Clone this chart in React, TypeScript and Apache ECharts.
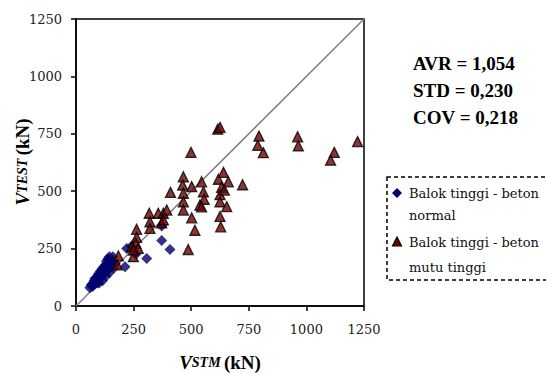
import React, { useEffect, useRef } from "react";
import * as echarts from "echarts";

// Balok tinggi - beton normal  [V_STM, V_TEST] (kN)
const normalData: number[][] = [
  [60, 80], [65, 90], [70, 95], [72, 85], [75, 100], [78, 110], [80, 95], [82, 120],
  [85, 105], [88, 115], [90, 125], [92, 100], [95, 130], [98, 140], [100, 115], [102, 135],
  [105, 150], [108, 125], [110, 145], [112, 160], [115, 135], [118, 155], [120, 170], [122, 145],
  [125, 160], [128, 180], [130, 150], [132, 195], [135, 170], [138, 205], [140, 160], [142, 185],
  [145, 215], [148, 175], [150, 200], [155, 190], [160, 215], [165, 165], [170, 185], [100, 100],
  [115, 110], [130, 130], [145, 145], [90, 110], [105, 125],
  [213, 171], [220, 250], [250, 240], [260, 225], [240, 260], [307, 207], [372, 285], [408, 246], [372, 348],
];

// Balok tinggi - beton mutu tinggi  [V_STM, V_TEST] (kN)
const highData: number[][] = [
  [615, 770], [625, 778], [499, 669], [794, 740], [789, 700], [813, 668], [962, 737], [965, 698],
  [1121, 669], [1105, 635], [1222, 716], [723, 528], [410, 495],
  [466, 563], [463, 527], [466, 491], [466, 454], [466, 418], [502, 520], [545, 541], [553, 497],
  [556, 465], [538, 440], [545, 432], [502, 384], [516, 330], [487, 246],
  [640, 582], [618, 552], [661, 541], [632, 517], [625, 485], [625, 454], [654, 433], [625, 390],
  [628, 345], [644, 505],
  [318, 404], [321, 367], [321, 338], [357, 404], [372, 362], [379, 404], [379, 375], [394, 418],
  [263, 334], [263, 299], [260, 273], [242, 258], [270, 251], [249, 215], [184, 218], [179, 179], [249, 244],
];

const lineData: number[][] = [[0, 0], [1250, 1250]];

const seriesNames = ["Balok tinggi - beton normal", "Balok tinggi - beton mutu tinggi"];
const statLines = ["AVR = 1,054", "STD = 0,230", "COV = 0,218"];

export default function App() {
  const ref = useRef<HTMLDivElement>(null);
  useEffect(() => {
    if (!ref.current) return;
    const chart = echarts.init(ref.current, null, { renderer: "svg" });
    const serif = "Liberation Serif";
    const serifReg = "DejaVu Serif";
    const axisCommon = {
      min: 0,
      max: 1250,
      interval: 250,
      axisLine: { show: true, onZero: false, lineStyle: { color: "#000", width: 1.5 } },
      axisTick: { show: true, inside: false, length: 5, lineStyle: { color: "#000", width: 1.5 } },
      splitLine: { show: false },
    };
    const labelStyle = {
      color: "#222",
      fontFamily: serifReg,
      fontSize: 13,
      formatter: (v: number) => String(v),
    };
    chart.setOption({
      animation: false,
      backgroundColor: "#fff",
      grid: { left: 76, top: 19, width: 288, height: 287, show: true, borderColor: "#000", borderWidth: 1.5 },
      xAxis: { ...axisCommon, type: "value", axisLabel: { ...labelStyle, margin: 17 } },
      yAxis: { ...axisCommon, type: "value", axisLabel: { ...labelStyle, margin: 14 } },
      series: [
        {
          type: "line",
          data: lineData,
          symbol: "none",
          lineStyle: { color: "#808080", width: 1.5 },
          z: 1,
          silent: true,
        },
        {
          name: seriesNames[0],
          type: "scatter",
          symbol: "diamond",
          symbolSize: 11,
          itemStyle: { color: "#00006e" },
          data: normalData,
          z: 2,
        },
        {
          name: seriesNames[1],
          type: "scatter",
          symbol: "triangle",
          symbolSize: [10, 10],
          itemStyle: { color: "#700000", borderColor: "#000", borderWidth: 1.3 },
          data: highData,
          z: 3,
        },
      ],
      graphic: [
        {
          type: "text",
          x: 220,
          y: 362,
          style: {
            text: "{v|V}{s|STM} {b|(kN)}",
            align: "center",
            verticalAlign: "middle",
            rich: {
              v: { fontFamily: serif, fontSize: 19, fontStyle: "italic", fontWeight: "bold", fill: "#000" },
              s: { fontFamily: serif, fontSize: 14, fontStyle: "italic", fontWeight: "bold", fill: "#000" },
              b: { fontFamily: serif, fontSize: 19, fontWeight: "bold", fill: "#000" },
            },
          },
        },
        {
          type: "text",
          x: 22,
          y: 162,
          rotation: Math.PI / 2,
          style: {
            text: "{v|V}{s|TEST} {b|(kN)}",
            align: "center",
            verticalAlign: "middle",
            rich: {
              v: { fontFamily: serif, fontSize: 19, fontStyle: "italic", fontWeight: "bold", fill: "#000" },
              s: { fontFamily: serif, fontSize: 14, fontStyle: "italic", fontWeight: "bold", fill: "#000" },
              b: { fontFamily: serif, fontSize: 19, fontWeight: "bold", fill: "#000" },
            },
          },
        },
        ...statLines.map((t, i) => ({
          type: "text",
          x: 413,
          y: 63 + i * 27,
          style: {
            text: t,
            align: "left",
            verticalAlign: "middle",
            fontFamily: serif,
            fontSize: 19,
            fontWeight: "bold",
            fill: "#000",
          },
        })),
        {
          type: "rect",
          shape: { x: 387, y: 177, width: 200, height: 103 },
          style: { fill: "none", stroke: "#000", lineWidth: 1.5, lineDash: [4, 3] },
        },
        {
          type: "polygon",
          shape: { points: [[397, 188], [402, 193], [397, 198], [392, 193]] },
          style: { fill: "#00006e" },
        },
        {
          type: "polygon",
          shape: { points: [[397, 237], [401.5, 246], [392.5, 246]] },
          style: { fill: "#700000", stroke: "#000", lineWidth: 1.2 },
        },
        ...["Balok tinggi - beton", "normal", "Balok tinggi - beton", "mutu tinggi"].map((t, i) => ({
          type: "text",
          x: 409,
          y: [193, 215, 242, 267][i],
          style: {
            text: t,
            align: "left",
            verticalAlign: "middle",
            fontFamily: serifReg,
            fontSize: 13,
            fill: "#111",
          },
        })),
      ],
    });
    return () => chart.dispose();
  }, []);
  return <div ref={ref} style={{ position: "absolute", left: 0, top: 0, width: 546, height: 374 }} />;
}
